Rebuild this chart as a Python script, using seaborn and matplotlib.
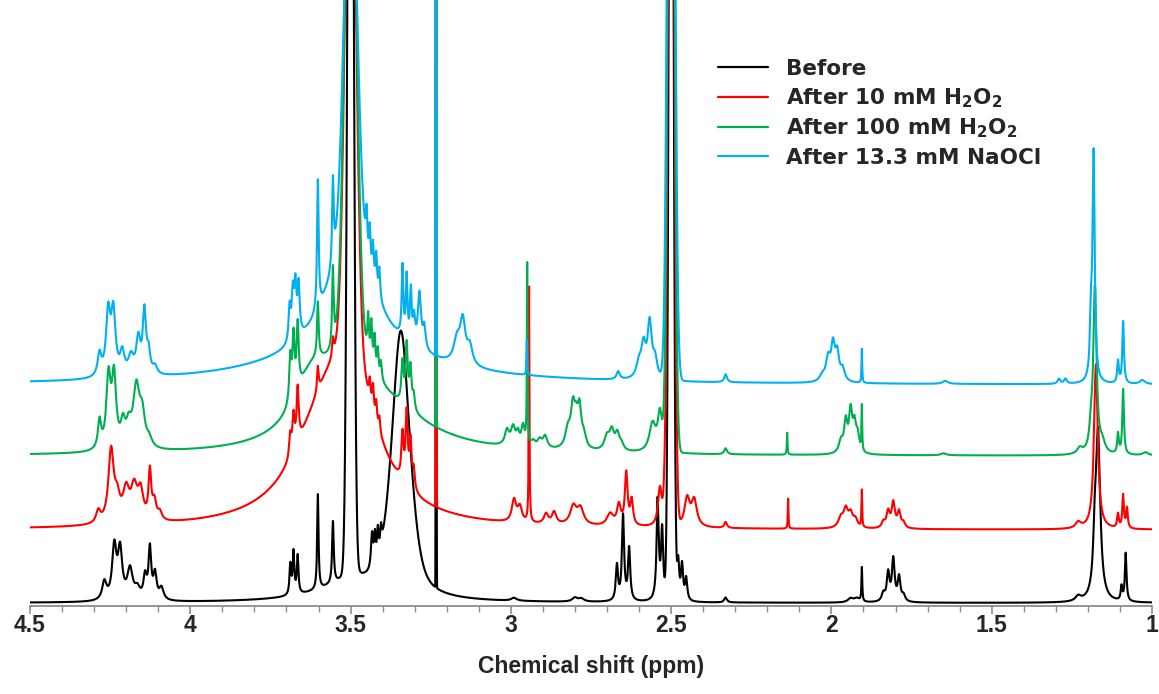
import numpy as np
import pandas as pd
import matplotlib
matplotlib.use("Agg")
import matplotlib.pyplot as plt
import seaborn as sns
from matplotlib.lines import Line2D
from matplotlib.ticker import MultipleLocator

# ---------------- data ----------------
SERIES = ["Before", "After 10 mM H$_2$O$_2$", "After 100 mM H$_2$O$_2$", "After 13.3 mM NaOCl"]
COLORS = ["#000000", "#FF0000", "#00B050", "#00B0F0"]
OFFSETS = [3, 76, 150, 221]          # vertical stacking offset of each trace

XTICKS = [4.5, 4.0, 3.5, 3.0, 2.5, 2.0, 1.5, 1.0]
XTICK_LABELS = ["4.5", "4", "3.5", "3", "2.5", "2", "1.5", "1"]

# Lorentzian peaks: (ppm, height, half width in ppm)
BEFORE_PEAKS = [
    (3.500, 100, 0.006), (3.500, 18, 0.125),
    (4.268, 18, 0.008), (4.237, 52, 0.008), (4.219, 48, 0.008), (4.188, 30, 0.01),
    (4.165, 10, 0.01), (4.141, 22, 0.006), (4.126, 50, 0.005), (4.110, 25, 0.006),
    (4.090, 12, 0.008),
    (3.688, 30, 0.003), (3.678, 42, 0.003), (3.665, 38, 0.003),
    (3.602, 95, 0.0025), (3.555, 62, 0.003),
    (3.433, 35, 0.004), (3.424, 28, 0.003), (3.415, 28, 0.003), (3.405, 20, 0.003),
    (3.343, 150, 0.032),
    (2.990, 3, 0.01), (2.800, 4, 0.01), (2.780, 3, 0.01),
    (2.669, 35, 0.004), (2.650, 85, 0.004), (2.631, 52, 0.004),
    (2.542, 100, 0.004), (2.528, 70, 0.004),
    (2.478, 40, 0.004), (2.466, 35, 0.004), (2.453, 22, 0.004),
    (2.330, 5, 0.005), (1.940, 4, 0.01), (1.920, 4, 0.01), (1.905, 34, 0.0015),
    (1.838, 8, 0.006), (1.823, 28, 0.005), (1.807, 42, 0.005), (1.789, 24, 0.005),
    (1.775, 6, 0.006),
    (1.230, 5, 0.01), (1.178, 50, 0.006), (1.168, 162, 0.008),
    (1.095, 14, 0.003), (1.082, 48, 0.003),
]
RED_PEAKS = [
    (3.500, 150, 0.094), (3.595, 70, 0.11),
    (4.287, 12, 0.008), (4.247, 72, 0.01), (4.228, 20, 0.01), (4.200, 30, 0.012),
    (4.175, 32, 0.012), (4.155, 28, 0.01), (4.126, 48, 0.005), (4.112, 18, 0.007),
    (4.095, 8, 0.008),
    (3.688, 22, 0.004), (3.678, 35, 0.004), (3.665, 55, 0.004),
    (3.602, 25, 0.003), (3.555, 18, 0.003),
    (3.440, 20, 0.003), (3.430, 25, 0.003), (3.420, 20, 0.003), (3.410, 15, 0.003),
    (3.338, 45, 0.004), (3.325, 70, 0.004), (3.313, 45, 0.004), (3.303, 20, 0.004),
    (2.990, 22, 0.008), (2.972, 15, 0.008), (2.943, 235, 0.0012),
    (2.890, 10, 0.008), (2.865, 12, 0.008), (2.805, 18, 0.012), (2.783, 16, 0.012),
    (2.690, 12, 0.012), (2.663, 20, 0.007), (2.640, 52, 0.005), (2.623, 25, 0.005),
    (2.535, 38, 0.007), (2.520, 20, 0.006),
    (2.450, 28, 0.01), (2.428, 26, 0.01),
    (2.330, 6, 0.005), (2.135, 30, 0.0012),
    (1.970, 10, 0.01), (1.955, 17, 0.008), (1.940, 13, 0.008), (1.925, 8, 0.008),
    (1.905, 37, 0.0012),
    (1.838, 6, 0.006), (1.823, 16, 0.006), (1.807, 25, 0.006), (1.789, 16, 0.006),
    (1.775, 5, 0.006),
    (1.230, 6, 0.01), (1.175, 165, 0.007),
    (1.106, 14, 0.003), (1.090, 33, 0.003), (1.078, 20, 0.003),
]
GREEN_PEAKS = [
    (3.500, 90, 0.08), (3.620, 55, 0.07), (3.380, 32, 0.18),
    (4.283, 28, 0.006), (4.255, 70, 0.008), (4.238, 70, 0.008), (4.210, 22, 0.008),
    (4.192, 20, 0.01), (4.168, 60, 0.012), (4.150, 30, 0.01), (4.128, 8, 0.01),
    (3.688, 45, 0.004), (3.678, 60, 0.004), (3.665, 65, 0.004),
    (3.602, 55, 0.003), (3.555, 80, 0.003),
    (3.445, 40, 0.003), (3.435, 40, 0.003), (3.425, 32, 0.003), (3.415, 25, 0.003),
    (3.405, 18, 0.003),
    (3.338, 40, 0.004), (3.325, 60, 0.004), (3.313, 40, 0.004), (3.303, 15, 0.004),
    (3.012, 15, 0.008), (2.993, 18, 0.008), (2.978, 12, 0.006), (2.962, 20, 0.006),
    (2.949, 180, 0.0012), (2.930, 6, 0.008), (2.910, 8, 0.008), (2.893, 12, 0.008),
    (2.822, 18, 0.01), (2.806, 40, 0.008), (2.796, 18, 0.006), (2.786, 38, 0.007),
    (2.772, 12, 0.008), (2.700, 14, 0.01), (2.685, 18, 0.008), (2.668, 16, 0.008),
    (2.655, 6, 0.008), (2.558, 28, 0.012), (2.535, 38, 0.008), (2.520, 10, 0.006),
    (2.330, 6, 0.005), (2.138, 22, 0.0012),
    (1.970, 12, 0.008), (1.955, 30, 0.006), (1.940, 40, 0.006), (1.928, 26, 0.006),
    (1.918, 16, 0.006), (1.905, 45, 0.0012),
    (1.650, 2, 0.01), (1.225, 6, 0.01),
    (1.190, 20, 0.006), (1.178, 165, 0.006), (1.155, 10, 0.01),
    (1.106, 20, 0.003), (1.090, 65, 0.003), (1.020, 3, 0.01),
]
BLUE_PEAKS = [
    (3.500, 140, 0.078), (3.500, 25, 0.34),
    (4.283, 22, 0.007), (4.256, 62, 0.008), (4.240, 62, 0.008), (4.212, 22, 0.008),
    (4.185, 18, 0.01), (4.162, 35, 0.008), (4.143, 62, 0.006), (4.130, 20, 0.006),
    (4.110, 8, 0.008),
    (3.690, 35, 0.004), (3.680, 45, 0.004), (3.672, 50, 0.004), (3.662, 50, 0.004),
    (3.602, 130, 0.003), (3.555, 85, 0.003),
    (3.450, 40, 0.003), (3.440, 40, 0.003), (3.430, 35, 0.003), (3.420, 35, 0.003),
    (3.410, 30, 0.003),
    (3.338, 70, 0.003), (3.325, 62, 0.003), (3.312, 50, 0.003), (3.302, 25, 0.004),
    (3.285, 55, 0.006), (3.270, 22, 0.005),
    (3.168, 22, 0.012), (3.150, 42, 0.01), (3.128, 18, 0.01),
    (2.950, 35, 0.0012), (2.665, 8, 0.006),
    (2.600, 15, 0.01), (2.586, 30, 0.008), (2.567, 55, 0.008), (2.550, 18, 0.008),
    (2.330, 8, 0.005),
    (2.028, 6, 0.01), (2.010, 22, 0.008), (1.995, 34, 0.007), (1.982, 26, 0.007),
    (1.965, 12, 0.008), (1.905, 34, 0.0012),
    (1.645, 3, 0.01), (1.290, 5, 0.005), (1.270, 5, 0.005),
    (1.190, 55, 0.004), (1.182, 225, 0.004),
    (1.106, 22, 0.003), (1.090, 62, 0.003), (1.030, 4, 0.01),
]

# Gaussian lines (solvent, water, reference): (ppm, height, sigma in ppm)
BEFORE_GAUSS = [(3.500, 1250, 0.008), (2.500, 1315, 0.0062), (3.233, 2000, 0.0008),
                (3.343, 115, 0.03)]
RED_GAUSS = [(3.500, 600, 0.016), (2.500, 1200, 0.008), (3.233, 2000, 0.0008)]
GREEN_GAUSS = [(3.500, 600, 0.017), (2.500, 1200, 0.0085), (3.233, 2000, 0.0008)]
BLUE_GAUSS = [(3.500, 393, 0.019), (2.500, 1150, 0.0095), (3.233, 2000, 0.0008)]

ALL_PEAKS = [BEFORE_PEAKS, RED_PEAKS, GREEN_PEAKS, BLUE_PEAKS]
ALL_GAUSS = [BEFORE_GAUSS, RED_GAUSS, GREEN_GAUSS, BLUE_GAUSS]

# ---------------- build spectra ----------------
ppm = np.arange(1.0, 4.5 + 1e-9, 0.0002)


def spectrum(peaks, gauss, offset):
    y = np.full_like(ppm, float(offset))
    for c, h, w in peaks:
        y += h / (1.0 + ((ppm - c) / w) ** 2)
    for c, h, s in gauss:
        y += h * np.exp(-0.5 * ((ppm - c) / s) ** 2)
    return y


frames = []
for name, pk, gs, off in zip(SERIES, ALL_PEAKS, ALL_GAUSS, OFFSETS):
    frames.append(pd.DataFrame({"ppm": ppm, "intensity": spectrum(pk, gs, off), "series": name}))
df = pd.concat(frames, ignore_index=True)

# ---------------- plot ----------------
sns.set_theme(style="white")
plt.rcParams["font.family"] = ["Liberation Sans", "DejaVu Sans"]
plt.rcParams["mathtext.fontset"] = "custom"
plt.rcParams["mathtext.rm"] = "DejaVu Sans:bold"
plt.rcParams["mathtext.bf"] = "DejaVu Sans:bold"
plt.rcParams["mathtext.it"] = "DejaVu Sans:bold"
plt.rcParams["mathtext.default"] = "bf"

W, H = 1159, 694
fig = plt.figure(figsize=(W / 100, H / 100), dpi=100)
ax = fig.add_axes([30 / W, (H - 606) / H, (1152 - 30) / W, 606 / H])

sns.lineplot(data=df, x="ppm", y="intensity", hue="series", hue_order=SERIES,
             palette=COLORS, estimator=None, sort=False, linewidth=1.5,
             legend=False, ax=ax)

ax.set_xlim(4.5, 1.0)
ax.set_ylim(0, 606)
for s in ["left", "top", "right"]:
    ax.spines[s].set_visible(False)
ax.spines["bottom"].set_color("#8c8c8c")
ax.spines["bottom"].set_linewidth(1.3)
ax.set_yticks([])
ax.set_ylabel("")
ax.set_xticks(XTICKS)
ax.set_xticklabels(XTICK_LABELS, fontsize=16.5, fontweight="bold")
ax.xaxis.set_minor_locator(MultipleLocator(0.1))
ax.tick_params(axis="x", which="major", direction="out", length=6, width=1.2,
               color="#8c8c8c", pad=0, bottom=True)
ax.tick_params(axis="x", which="minor", direction="out", length=4, width=1.0,
               color="#8c8c8c", bottom=True)
ax.set_xlabel("Chemical shift (ppm)", fontsize=16.5, fontweight="bold", labelpad=13)

handles = [Line2D([0], [0], color=c, lw=1.6) for c in COLORS]
ax.legend(handles, SERIES, loc="upper left", bbox_to_anchor=(718 / W, 1 - 59 / H),
          bbox_transform=fig.transFigure, frameon=False,
          prop={"family": "DejaVu Sans", "weight": "bold", "size": 15.5},
          handlelength=2.3, handletextpad=0.85, labelspacing=0.33,
          borderpad=0, borderaxespad=0)

fig.savefig("out.png", dpi=100)
